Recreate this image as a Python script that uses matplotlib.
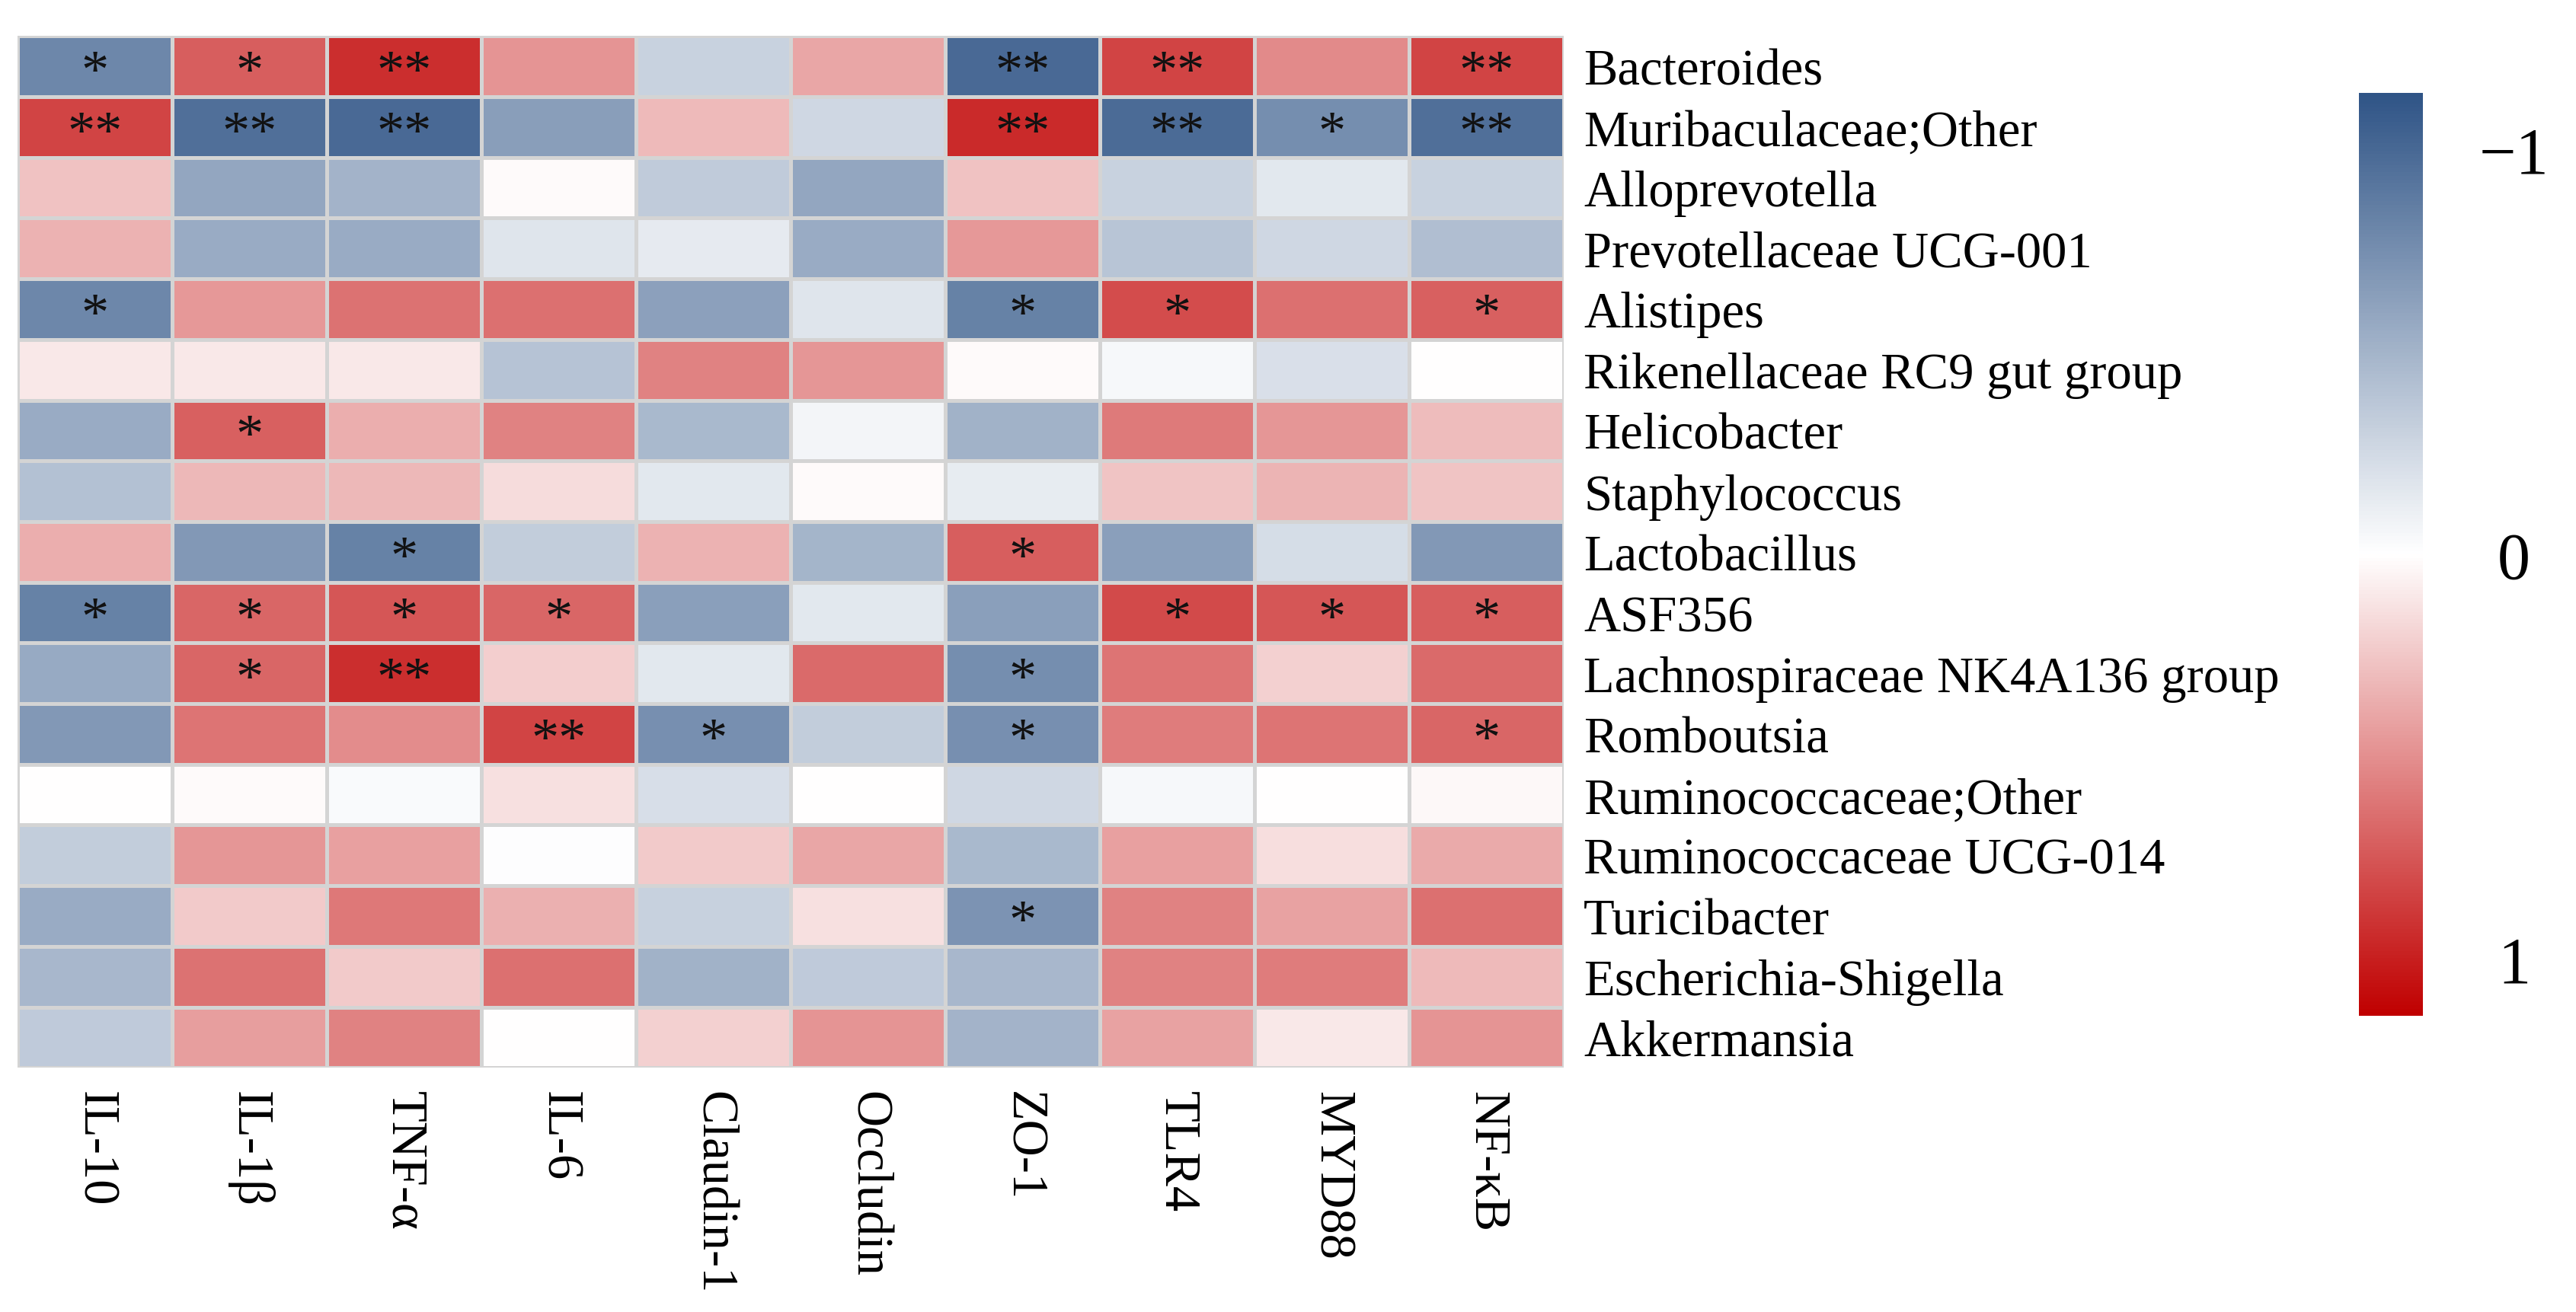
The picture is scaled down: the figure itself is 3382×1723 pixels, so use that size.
import matplotlib
matplotlib.use("Agg")
import matplotlib.pyplot as plt
import numpy as np
from matplotlib.colors import LinearSegmentedColormap, Normalize
import matplotlib.colorbar as mcolorbar

plt.rcParams['font.family'] = ['Liberation Serif', 'DejaVu Serif']

## 列(宿主指標)と行(菌属)
markers = ["IL-10", "IL-1β", "TNF-α", "IL-6", "Claudin-1", "Occludin",
           "ZO-1", "TLR4", "MYD88", "NF-κB"]
genera = ["Bacteroides", "Muribaculaceae;Other", "Alloprevotella",
          "Prevotellaceae UCG-001", "Alistipes", "Rikenellaceae RC9 gut group",
          "Helicobacter", "Staphylococcus", "Lactobacillus", "ASF356",
          "Lachnospiraceae NK4A136 group", "Romboutsia", "Ruminococcaceae;Other",
          "Ruminococcaceae UCG-014", "Turicibacter", "Escherichia-Shigella",
          "Akkermansia"]

## 相関係数
corr = [
    [-0.80, 0.72, 0.93, 0.48, -0.30, 0.40, -0.99, 0.83, 0.52, 0.83],
    [0.83, -0.96, -0.99, -0.65, 0.31, -0.26, 0.95, -0.98, -0.75, -0.96],
    [0.27, -0.59, -0.50, 0.02, -0.34, -0.59, 0.27, -0.30, -0.16, -0.30],
    [0.34, -0.56, -0.56, -0.17, -0.14, -0.56, 0.46, -0.39, -0.26, -0.43],
    [-0.80, 0.46, 0.63, 0.64, -0.63, -0.17, -0.83, 0.80, 0.64, 0.71],
    [0.10, 0.10, 0.10, -0.40, 0.56, 0.47, 0.02, -0.05, -0.21, 0.00],
    [-0.56, 0.71, 0.36, 0.56, -0.47, -0.07, -0.51, 0.59, 0.47, 0.30],
    [-0.41, 0.32, 0.32, 0.16, -0.16, 0.02, -0.13, 0.26, 0.33, 0.26],
    [0.36, -0.68, -0.83, -0.33, 0.34, -0.49, 0.72, -0.64, -0.23, -0.68],
    [-0.83, 0.68, 0.75, 0.68, -0.64, -0.16, -0.64, 0.81, 0.75, 0.72],
    [-0.57, 0.68, 0.93, 0.22, -0.16, 0.66, -0.75, 0.62, 0.21, 0.66],
    [-0.68, 0.62, 0.51, 0.83, -0.74, -0.33, -0.74, 0.58, 0.62, 0.68],
    [0.00, 0.02, -0.03, 0.14, -0.22, 0.00, -0.26, -0.05, 0.00, 0.03],
    [-0.33, 0.47, 0.42, -0.01, 0.24, 0.40, -0.47, 0.42, 0.15, 0.38],
    [-0.56, 0.24, 0.60, 0.35, -0.31, 0.14, -0.72, 0.56, 0.41, 0.64],
    [-0.48, 0.63, 0.24, 0.64, -0.51, -0.35, -0.48, 0.56, 0.58, 0.31],
    [-0.35, 0.43, 0.56, 0.00, 0.21, 0.48, -0.50, 0.41, 0.10, 0.48],
]

## 有意性マーク
signif = [
    ["*", "*", "**", "", "", "", "**", "**", "", "**"],
    ["**", "**", "**", "", "", "", "**", "**", "*", "**"],
    ["", "", "", "", "", "", "", "", "", ""],
    ["", "", "", "", "", "", "", "", "", ""],
    ["*", "", "", "", "", "", "*", "*", "", "*"],
    ["", "", "", "", "", "", "", "", "", ""],
    ["", "*", "", "", "", "", "", "", "", ""],
    ["", "", "", "", "", "", "", "", "", ""],
    ["", "", "*", "", "", "", "*", "", "", ""],
    ["*", "*", "*", "*", "", "", "", "*", "*", "*"],
    ["", "*", "**", "", "", "", "*", "", "", ""],
    ["", "", "", "**", "*", "", "*", "", "", "*"],
    ["", "", "", "", "", "", "", "", "", ""],
    ["", "", "", "", "", "", "", "", "", ""],
    ["", "", "", "", "", "", "*", "", "", ""],
    ["", "", "", "", "", "", "", "", "", ""],
    ["", "", "", "", "", "", "", "", "", ""],
]

cbar_ticks = [-1, 0, 1]
cbar_labels = ["\u22121", "0", "1"]

cmap = LinearSegmentedColormap.from_list("bwr2", ["#2F5486", "#FFFFFF", "#C00000"])
norm = Normalize(vmin=-1.14, vmax=1.14)

fig = plt.figure(figsize=(33.82, 17.24), dpi=100)
ax = fig.add_axes([0.0068, 0.186, 0.6002, 0.786])

data = np.array(corr)
ax.pcolormesh(data, cmap=cmap, norm=norm, edgecolors="#D4D4D4", linewidth=3.6)
ax.set_xlim(0, len(markers))
ax.set_ylim(len(genera), 0)

for i in range(len(genera)):
    for j in range(len(markers)):
        if signif[i][j]:
            ax.text(j + 0.5, i + 0.62, signif[i][j], ha="center", va="center",
                    fontsize=52, color="#111111")

ax.set_xticks(np.arange(len(markers)) + 0.5)
ax.set_xticklabels(markers, rotation=270, fontsize=48, ha="center", va="top")
ax.set_yticks(np.arange(len(genera)) + 0.5)
ax.set_yticklabels(genera, fontsize=48)
ax.yaxis.tick_right()
ax.tick_params(axis="x", length=0, pad=21)
ax.tick_params(axis="y", length=0, pad=19)
for s in ax.spines.values():
    s.set_visible(False)

## カラーバー
cax = fig.add_axes([0.9157, 0.2256, 0.0249, 0.7031])
cb = mcolorbar.ColorbarBase(cax, cmap=cmap, norm=norm, orientation="vertical")
cb.outline.set_visible(False)
cax.invert_yaxis()
cb.set_ticks(cbar_ticks)
cb.set_ticklabels(cbar_labels)
cax.tick_params(length=0, pad=86, labelsize=62)
for t in cax.get_yticklabels():
    t.set_horizontalalignment("center")

fig.savefig("out.png", dpi=100)
